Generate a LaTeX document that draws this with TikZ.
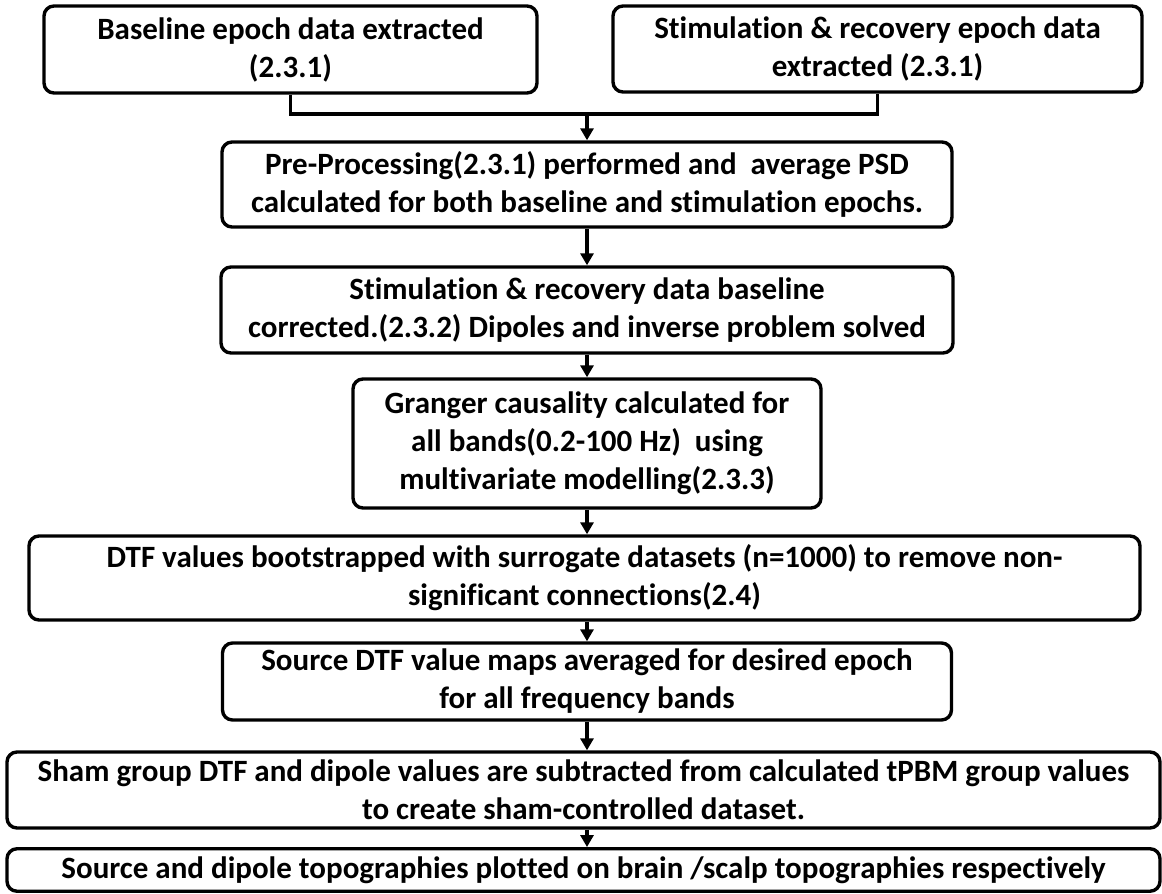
\documentclass[tikz,border=0pt]{standalone}
\usepackage{fontspec}
\setmainfont{Carlito}[RawFeature={-liga}]
\usetikzlibrary{arrows.meta}
\begin{document}
\begin{tikzpicture}[x=1pt,y=-1pt,
  box/.style={draw=black, line width=3.4pt, rounded corners=10pt, fill=white,
    inner sep=0pt, align=center, font=\fontsize{31}{38}\selectfont\bfseries},
  conn/.style={draw=black, line width=3.4pt},
  arr/.style={conn, -{Triangle[length=12pt,width=13pt]}}]
\fill[white] (0,0) rectangle (1162,894);
\useasboundingbox (0,0) rectangle (1162,894);
\node[box, minimum width=493pt, minimum height=87pt] (b1) at (290.5,49.5)
  {Baseline epoch data extracted\\(2.3.1)};
\node[box, minimum width=529pt, minimum height=86pt] (b2) at (877.5,49)
  {Stimulation \& recovery epoch data\\extracted (2.3.1)};
\node[box, minimum width=730pt, minimum height=85pt] (b3) at (587,184.5)
  {Pre-Processing(2.3.1) performed and\ \ average PSD\\calculated for both baseline and stimulation epochs.};
\node[box, minimum width=732pt, minimum height=86pt] (b4) at (587,310)
  {Stimulation \& recovery data baseline\\corrected.(2.3.2) Dipoles and inverse problem solved};
\node[box, minimum width=468pt, minimum height=129pt] (b5) at (587,443.5)
  {Granger causality calculated for\\all bands(0.2-100 Hz)\ \ using\\multivariate modelling(2.3.3)};
\node[box, minimum width=1111pt, minimum height=84pt] (b6) at (584.5,578)
  {DTF values bootstrapped with surrogate datasets (n=1000) to remove non-\\significant connections(2.4)};
\node[box, minimum width=729pt, minimum height=77pt] (b7) at (587,681.5)
  {Source DTF value maps averaged for desired epoch\\for all frequency bands};
\node[box, minimum width=1153pt, minimum height=76pt] (b8) at (583.5,790)
  {Sham group DTF and dipole values are subtracted from calculated tPBM group values\\to create sham-controlled dataset.};
\node[box, minimum width=1153pt, minimum height=42.5pt] (b9) at (583.5,870)
  {Source and dipole topographies plotted on brain /scalp topographies respectively};
\coordinate (m) at (587,114);
\draw[conn] (b1.south) |- (m) -| (b2.south);
\draw[arr] (m) -- (b3.north);
\draw[arr] (b3.south) -- (b4.north);
\draw[arr] (b4.south) -- (b5.north);
\draw[arr] (b5.south) -- (b5.south |- b6.north);
\draw[arr] (b7.south |- b6.south) -- (b7.north);
\draw[arr] (b7.south) -- (b7.south |- b8.north);
\draw[arr] (b7.south |- b8.south) -- (b7.south |- b9.north);
\end{tikzpicture}
\end{document}
